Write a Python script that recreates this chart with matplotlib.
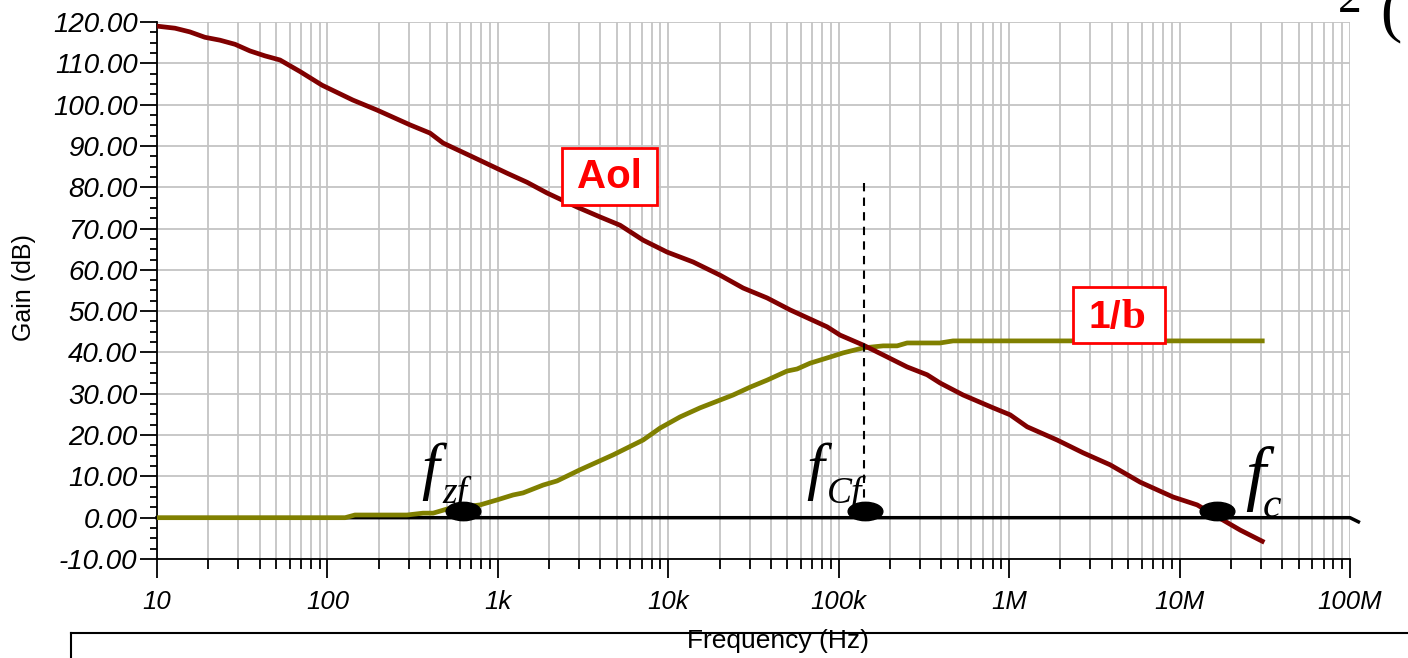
import numpy as np
import matplotlib.pyplot as plt
from matplotlib.patches import Rectangle
from matplotlib.path import Path
from matplotlib.transforms import Affine2D
from matplotlib.lines import Line2D
from matplotlib.ticker import MultipleLocator, NullFormatter, FixedLocator

# open loop gain
aol_freq = [10, 12.75, 15.6, 19.1, 23.4, 28.7, 35.1, 43.0, 52.7, 69.1, 93, 141, 195, 305,
            400, 477, 715, 1132, 1483, 1944, 2915, 3981, 5215, 7112, 9840, 13990, 20150,
            27480, 38000, 51880, 85530, 101900, 139000, 182300, 251900, 330200, 393600,
            537000, 805000, 1.014e6, 1.276e6, 1.914e6, 2.718e6, 3.914e6, 5.874e6, 9.17e6,
            1.268e7, 1.802e7, 2.269e7, 3.056e7]
aol_db = [119.0, 118.5, 117.6, 116.3, 115.6, 114.6, 113.0, 111.8, 110.8, 108.0, 104.7, 101.1,
          98.7, 95.1, 93.1, 90.7, 87.3, 83.4, 81.2, 78.6, 75.2, 72.8, 70.8, 67.2, 64.3, 61.9,
          58.7, 55.6, 53.2, 50.3, 46.2, 44.2, 41.8, 39.4, 36.5, 34.6, 32.6, 29.7, 26.6, 24.9,
          22.0, 18.8, 15.7, 12.8, 8.6, 5.0, 3.1, -0.6, -3.0, -5.7]

# 1/beta noise gain
beta_freq = [10, 127, 145, 293, 364, 417, 504, 787, 989, 1228, 1406, 1843, 2225, 3035, 4742,
             7112, 8954, 11730, 15380, 23990, 30200, 38000, 49770, 56990, 67920, 89080,
             106200, 139000, 182300, 220200, 251900, 393600, 469000, 3.056e7]
beta_db = [0, 0, 0.65, 0.65, 1.1, 1.1, 2.1, 3.1, 4.3, 5.5, 6.0, 7.9, 8.9, 11.6, 15.2, 18.8,
           21.7, 24.4, 26.6, 29.7, 31.6, 33.3, 35.5, 36.0, 37.4, 38.9, 39.9, 41.1, 41.6, 41.6,
           42.3, 42.3, 42.8, 42.8]

# f_zf, f_Cf, f_c markers
mark_freq = [625, 1.42e5, 1.66e7]
mark_db = [1.6, 1.6, 1.6]
cf_freq = 1.41e5

x_ticks = [10, 100, 1e3, 1e4, 1e5, 1e6, 1e7, 1e8]
x_tick_labels = ['10', '100', '1k', '10k', '100k', '1M', '10M', '100M']
y_ticks = np.arange(-10, 121, 10)

W, H = 1408, 658
plt.rcParams['font.family'] = ['Liberation Sans', 'DejaVu Sans']


def px(x, y):
    return x / W, 1 - y / H


fig = plt.figure(figsize=(W / 100, H / 100), dpi=100)
ax = fig.add_axes([157 / W, 1 - 559 / H, (1350 - 157) / W, (559 - 22) / H])

ax.set_xscale('log')
ax.set_xlim(10, 1e8)
ax.set_ylim(-10, 120)
ax.set_xticks(x_ticks)
ax.set_xticklabels(x_tick_labels)
ax.xaxis.set_minor_locator(FixedLocator(
    [m * 10 ** d for d in range(1, 8) for m in range(2, 10)]))
ax.xaxis.set_minor_formatter(NullFormatter())
ax.set_yticks(y_ticks)
ax.set_yticklabels(['%.2f' % v for v in y_ticks])
ax.yaxis.set_minor_locator(MultipleLocator(2.5))

ax.grid(which='major', axis='both', color='#c4c4c4', lw=1.3)
ax.grid(which='minor', axis='x', color='#c4c4c4', lw=1.3)
ax.set_axisbelow(True)

for s in ['top', 'right']:
    ax.spines[s].set_visible(False)
for s in ['left', 'bottom']:
    ax.spines[s].set_linewidth(1.3)

ax.tick_params(which='both', direction='out', width=1.3)
ax.tick_params(axis='y', which='major', length=12, pad=2, labelsize=20)
ax.tick_params(axis='y', which='minor', length=5)
ax.tick_params(axis='x', which='major', length=14, pad=8, labelsize=18.5)
ax.tick_params(axis='x', which='minor', length=7)
for lab in ax.get_xticklabels() + ax.get_yticklabels():
    lab.set_fontstyle('italic')

# 0 dB reference line with the little hook at the end
ax.plot([10, 1e8, 1.12e8], [0, 0, -1.0], color='black', lw=2.5, clip_on=False, zorder=3)

ax.plot(beta_freq, beta_db, color='#808000', lw=3.4, zorder=4)
ax.plot(aol_freq, aol_db, color='#800000', lw=3.4, zorder=4)

ax.plot([cf_freq, cf_freq], [81, 2], color='black', lw=1.5, ls=(0, (4, 3)), zorder=5)

ellipse = Path.unit_circle().transformed(Affine2D().scale(1, 0.53))
ax.plot(mark_freq, mark_db, ls='none', marker=ellipse, ms=25, color='black',
        clip_on=False, zorder=6)

fig.text(*px(24, 288), 'Gain (dB)', rotation=90, ha='center', va='center', fontsize=18)
fig.text(*px(778, 641), 'Frequency (Hz)', ha='center', va='center', fontsize=19)

# labels in boxes
fig.add_artist(Rectangle(px(562, 205), 95 / W, 57 / H, transform=fig.transFigure,
                         fc='white', ec='red', lw=2, zorder=5))
fig.text(*px(609, 177), 'Aol', ha='center', va='center', fontsize=29,
         fontweight='bold', color='red', zorder=6)
fig.add_artist(Rectangle(px(1073, 343), 92 / W, 56 / H, transform=fig.transFigure,
                         fc='white', ec='red', lw=2, zorder=5))
fig.text(*px(1121, 328), '1/', ha='right', va='baseline', fontsize=28,
         fontweight='bold', color='red', zorder=6)
fig.text(*px(1121, 328), 'b', ha='left', va='baseline', fontsize=31,
         fontweight='bold', color='red', family='Liberation Serif', zorder=6)

# f annotations
serif = 'Liberation Serif'
for fx, fy, fs, sx, sy, ss, sub in [(430, 472, 46, 442, 493, 27, 'zf'),
                                    (815, 472, 46, 827, 493, 27, 'Cf'),
                                    (1255, 479, 52, 1263, 507, 30, 'c')]:
    fig.text(*px(fx, fy), 'f', ha='center', va='center', fontsize=fs,
             family=serif, style='italic', zorder=7)
    fig.text(*px(sx, sy), sub, ha='left', va='center', fontsize=ss,
             family=serif, style='italic', zorder=7)

# bits of the surrounding page
fig.add_artist(Line2D([71 / W, 1], [1 - 633 / H] * 2, color='black', lw=1.5))
fig.add_artist(Line2D([71 / W, 71 / W], [1 - 633 / H, 0], color='black', lw=1.5))
fig.text(*px(1338, 12), '2', ha='left', va='baseline', fontsize=34, family=serif)
fig.text(*px(1380, 14), '(', ha='left', va='center', fontsize=46, family=serif)

fig.savefig('out.png', dpi=100)
